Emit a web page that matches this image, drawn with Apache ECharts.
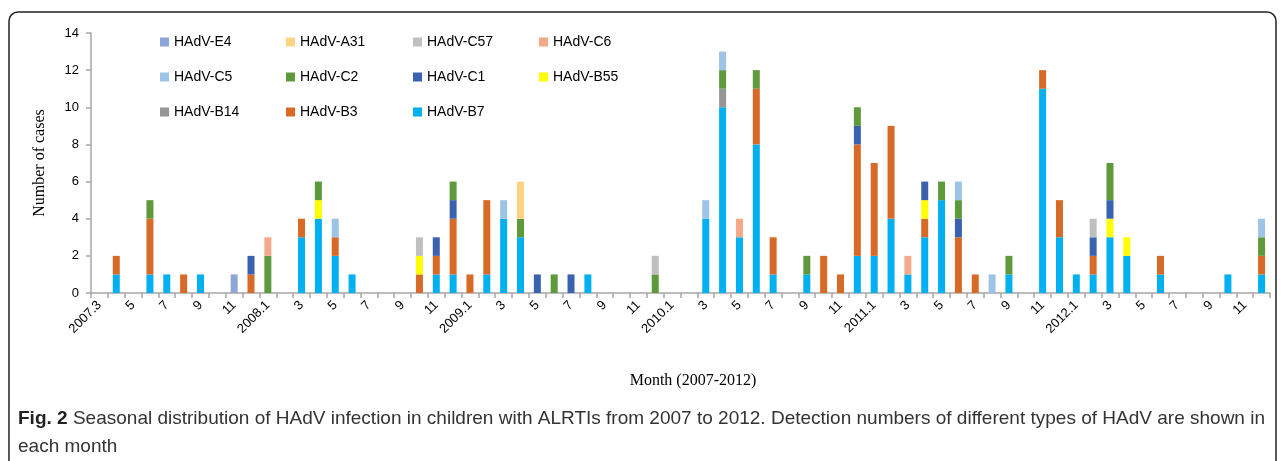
<!DOCTYPE html>
<html>
<head>
<meta charset="utf-8">
<script src="https://cdn.jsdelivr.net/npm/echarts@6/dist/echarts.min.js"></script>
<style>
html,body{margin:0;padding:0;background:#fff;}
#chart{width:1282px;height:461px;}
</style>
</head>
<body>
<div id="chart"></div>
<script>
// Categories: months 2007.3 ... 2012.12
const years = [2007, 2008, 2009, 2010, 2011, 2012];
const firstMonth = 3;
const categories = [];
years.forEach(function (y, i) {
  for (let m = (i === 0 ? firstMonth : 1); m <= 12; m++) categories.push(y + '.' + m);
});

// Series values (one value per month, 2007.3 -> 2012.12)
//                 2007: 3-12                 2008: 1-12                          2009: 1-12                          2010: 1-12                           2011: 1-12                          2012: 1-12
const B7  = [0,1,0,1,1,0,1,0,0,0,  0,0,3,4,2,1,0,0,0,0,1,1,  0,1,4,3,0,0,0,1,0,0,0,0,  0,0,4,10,3,8,1,0,1,0,0,2,  2,4,1,3,5,0,0,0,1,0,11,3,  1,1,3,2,0,1,0,0,0,1,0,1];
const B3  = [0,1,0,3,0,1,0,0,0,1,  0,0,1,0,1,0,0,0,0,1,1,3,  1,4,0,0,0,0,0,0,0,0,0,0,  0,0,0,0,0,3,2,0,0,2,1,6,  5,5,0,1,0,3,1,0,0,0,1,2,  0,1,0,0,0,1,0,0,0,0,0,1];
const B14 = [0,0,0,0,0,0,0,0,0,0,  0,0,0,0,0,0,0,0,0,0,0,0,  0,0,0,0,0,0,0,0,0,0,0,0,  0,0,0,1,0,0,0,0,0,0,0,0,  0,0,0,0,0,0,0,0,0,0,0,0,  0,0,0,0,0,0,0,0,0,0,0,0];
const B55 = [0,0,0,0,0,0,0,0,0,0,  0,0,0,1,0,0,0,0,0,1,0,0,  0,0,0,0,0,0,0,0,0,0,0,0,  0,0,0,0,0,0,0,0,0,0,0,0,  0,0,0,1,0,0,0,0,0,0,0,0,  0,0,1,1,0,0,0,0,0,0,0,0];
const C1  = [0,0,0,0,0,0,0,0,0,1,  0,0,0,0,0,0,0,0,0,0,1,1,  0,0,0,0,1,0,1,0,0,0,0,0,  0,0,0,0,0,0,0,0,0,0,0,1,  0,0,0,1,0,1,0,0,0,0,0,0,  0,1,1,0,0,0,0,0,0,0,0,0];
const C2  = [0,0,0,1,0,0,0,0,0,0,  2,0,0,1,0,0,0,0,0,0,0,1,  0,0,0,1,0,1,0,0,0,0,0,1,  0,0,0,1,0,1,0,0,1,0,0,1,  0,0,0,0,1,1,0,0,1,0,0,0,  0,0,2,0,0,0,0,0,0,0,0,1];
const C5  = [0,0,0,0,0,0,0,0,0,0,  0,0,0,0,1,0,0,0,0,0,0,0,  0,0,1,0,0,0,0,0,0,0,0,0,  0,0,1,1,0,0,0,0,0,0,0,0,  0,0,0,0,0,1,0,1,0,0,0,0,  0,0,0,0,0,0,0,0,0,0,0,1];
const C6  = [0,0,0,0,0,0,0,0,0,0,  1,0,0,0,0,0,0,0,0,0,0,0,  0,0,0,0,0,0,0,0,0,0,0,0,  0,0,0,0,1,0,0,0,0,0,0,0,  0,0,1,0,0,0,0,0,0,0,0,0,  0,0,0,0,0,0,0,0,0,0,0,0];
const C57 = [0,0,0,0,0,0,0,0,0,0,  0,0,0,0,0,0,0,0,0,1,0,0,  0,0,0,0,0,0,0,0,0,0,0,1,  0,0,0,0,0,0,0,0,0,0,0,0,  0,0,0,0,0,0,0,0,0,0,0,0,  0,1,0,0,0,0,0,0,0,0,0,0];
const A31 = [0,0,0,0,0,0,0,0,0,0,  0,0,0,0,0,0,0,0,0,0,0,0,  0,0,0,2,0,0,0,0,0,0,0,0,  0,0,0,0,0,0,0,0,0,0,0,0,  0,0,0,0,0,0,0,0,0,0,0,0,  0,0,0,0,0,0,0,0,0,0,0,0];
const E4  = [0,0,0,0,0,0,0,0,1,0,  0,0,0,0,0,0,0,0,0,0,0,0,  0,0,0,0,0,0,0,0,0,0,0,0,  0,0,0,0,0,0,0,0,0,0,0,0,  0,0,0,0,0,0,0,0,0,0,0,0,  0,0,0,0,0,0,0,0,0,0,0,0];

const seriesNames = ['HAdV-B7','HAdV-B3','HAdV-B14','HAdV-B55','HAdV-C1','HAdV-C2','HAdV-C5','HAdV-C6','HAdV-C57','HAdV-A31','HAdV-E4'];
const seriesData  = [B7, B3, B14, B55, C1, C2, C5, C6, C57, A31, E4];
const seriesColors = ['#00B0F0','#D86A27','#969696','#FFFF00','#3A62AF','#5E9A3B','#9DC3E6','#F4AA88','#BFBFBF','#FFD384','#8EA5D8'];

const yTicks = [0, 2, 4, 6, 8, 10, 12, 14];

const legendColumns = [
  ['HAdV-E4','HAdV-C5','HAdV-B14'],
  ['HAdV-A31','HAdV-C2','HAdV-B3'],
  ['HAdV-C57','HAdV-C1','HAdV-B7'],
  ['HAdV-C6','HAdV-B55']
];
const legendLefts = [160, 286, 413, 539];

const captionBold = 'Fig. 2';
const captionLine1 = ' Seasonal distribution of HAdV infection in children with ALRTIs from 2007 to 2012. Detection numbers of different types of HAdV are shown in';
const captionLine2 = 'each month';

// fit caption first line to the reference width (condensed look)
const capFont = '"Liberation Sans"';
const capSize = 19;
const mctx = document.createElement('canvas').getContext('2d');
mctx.font = 'bold ' + capSize + 'px ' + capFont;
const wBold = mctx.measureText(captionBold).width;
mctx.font = capSize + 'px ' + capFont;
const wNorm = mctx.measureText(captionLine1).width;
const capScale = 1247 / (wBold + wNorm);

const chart = echarts.init(document.getElementById('chart'), null, {renderer: 'canvas'});

const option = {
  animation: false,
  grid: {left: 91, right: 12, top: 33, bottom: 168, containLabel: false},
  legend: legendColumns.map(function (col, i) {
    return {
      data: col,
      orient: 'vertical',
      left: legendLefts[i],
      top: 35,
      itemWidth: 9,
      itemHeight: 9,
      itemGap: 21,
      icon: 'rect',
      selectedMode: false,
      textStyle: {fontFamily: 'Liberation Sans', fontSize: 14, color: '#000', lineHeight: 14, padding: [0,0,0,0]},
      padding: 0
    };
  }),
  xAxis: {
    type: 'category',
    data: categories,
    boundaryGap: true,
    axisLine: {lineStyle: {color: '#A6A6A6', width: 1.5}},
    axisTick: {show: true, interval: 0, length: 5, lineStyle: {color: '#A6A6A6', width: 1.5}},
    axisLabel: {
      interval: 1,
      rotate: 45,
      margin: 10,
      fontFamily: 'Liberation Sans',
      fontSize: 13,
      color: '#000',
      formatter: function (v, idx) {
        const parts = v.split('.');
        return (idx === 0 || parts[1] === '1') ? v : parts[1];
      }
    },
    splitLine: {show: false}
  },
  yAxis: {
    type: 'value',
    min: yTicks[0],
    max: yTicks[yTicks.length - 1],
    interval: 2,
    axisLine: {show: true, lineStyle: {color: '#A6A6A6', width: 1.5}},
    axisTick: {show: true, length: 5, lineStyle: {color: '#A6A6A6', width: 1.5}},
    axisLabel: {fontFamily: 'Liberation Sans', fontSize: 13, color: '#000', margin: 12},
    splitLine: {show: false}
  },
  series: seriesNames.map(function (name, i) {
    return {
      name: name,
      type: 'bar',
      stack: 'total',
      barWidth: 7,
      data: seriesData[i],
      itemStyle: {color: seriesColors[i]},
      emphasis: {disabled: true}
    };
  }),
  graphic: [
    {
      type: 'rect',
      shape: {x: 9, y: 12, width: 1267, height: 480, r: 9},
      style: {fill: 'none', stroke: '#222', lineWidth: 1.5},
      silent: true
    },
    {
      type: 'text',
      x: 40, y: 163,
      rotation: Math.PI / 2,
      style: {text: 'Number of cases', font: '16px "Liberation Serif"', fill: '#000', textAlign: 'center', textVerticalAlign: 'middle'}
    },
    {
      type: 'text',
      x: 693, y: 381,
      style: {text: 'Month (2007-2012)', font: '16px "Liberation Serif"', fill: '#000', textAlign: 'center', textVerticalAlign: 'middle'}
    },
    {
      type: 'text',
      x: 18, y: 405,
      scaleX: capScale,
      style: {
        text: '{b|' + captionBold + '}' + captionLine1 + '\n' + captionLine2,
        rich: {
          b: {fontFamily: 'Liberation Sans', fontWeight: 'bold', fontSize: capSize, fill: '#222', lineHeight: 28}
        },
        fontFamily: 'Liberation Sans',
        fontSize: capSize,
        fill: '#333',
        lineHeight: 28
      }
    }
  ]
};
chart.setOption(option);
</script>
</body>
</html>
